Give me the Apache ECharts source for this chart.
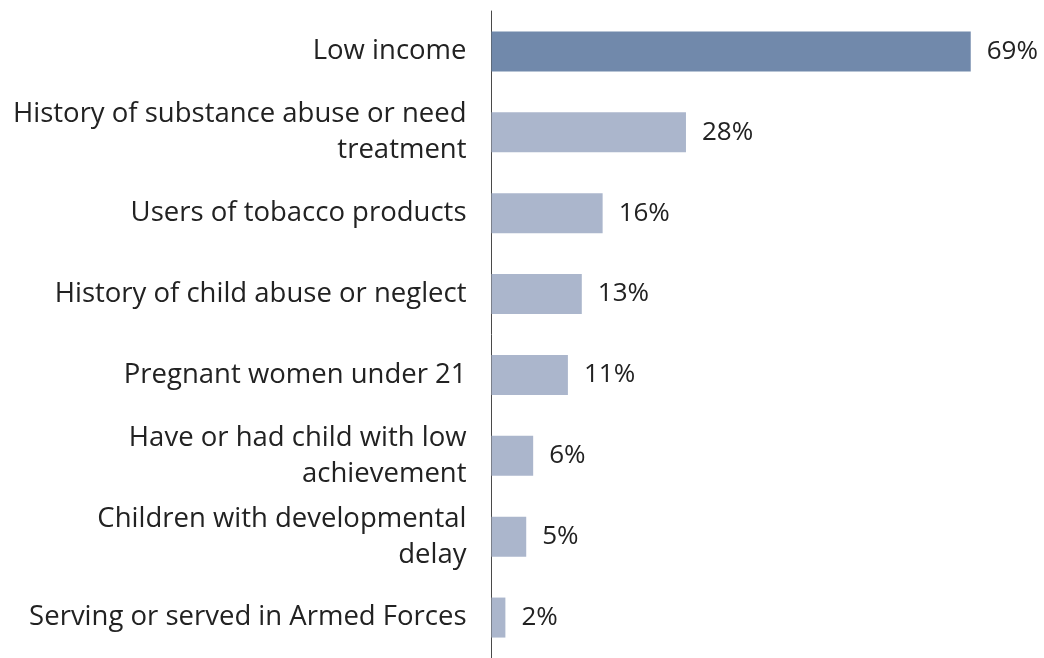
<!DOCTYPE html>
<html>
<head>
<meta charset="utf-8">
<script src="https://cdn.jsdelivr.net/npm/echarts@6/dist/echarts.min.js"></script>
<style>
  html, body { margin: 0; padding: 0; background: #ffffff; }
  #chart { width: 1044px; height: 658px; }
</style>
</head>
<body>
<div id="chart"></div>
<script>
// Risk factors among families served, share of total (%)
const categories = [
  'Low income',
  'History of substance abuse or need\ntreatment',
  'Users of tobacco products',
  'History of child abuse or neglect',
  'Pregnant women under 21',
  'Have or had child with low\nachievement',
  'Children with developmental\ndelay',
  'Serving or served in Armed Forces'
];
const values = [69, 28, 16, 13, 11, 6, 5, 2];

const highlightColor = '#7189ab';
const baseColor = '#abb6cc';
const textFont = '"Open Sans", Lato, sans-serif';

const chart = echarts.init(document.getElementById('chart'), null, { renderer: 'canvas' });

chart.setOption({
  animation: false,
  grid: { left: 491.5, top: 11, height: 651, right: 31.6, containLabel: false },
  xAxis: {
    type: 'value',
    min: 0,
    max: 75,
    show: false,
    splitLine: { show: false }
  },
  yAxis: {
    type: 'category',
    data: categories,
    inverse: true,
    axisLine: { show: true, lineStyle: { color: '#4a4a4a', width: 1 } },
    axisTick: { show: false },
    axisLabel: {
      margin: 25,
      color: '#222222',
      fontFamily: textFont,
      fontSize: 27.5,
      lineHeight: 36,
      align: 'right',
      padding: [5, 0, 0, 0]
    }
  },
  series: [{
    type: 'bar',
    barWidth: 40,
    data: values.map((v, i) => ({
      value: v,
      itemStyle: { color: i === 0 ? highlightColor : baseColor }
    })),
    label: {
      show: true,
      position: 'right',
      distance: 16,
      color: '#222222',
      fontFamily: textFont,
      fontSize: 26,
      padding: [6, 0, 0, 0],
      formatter: p => p.value + '%'
    }
  }]
});
</script>
</body>
</html>
